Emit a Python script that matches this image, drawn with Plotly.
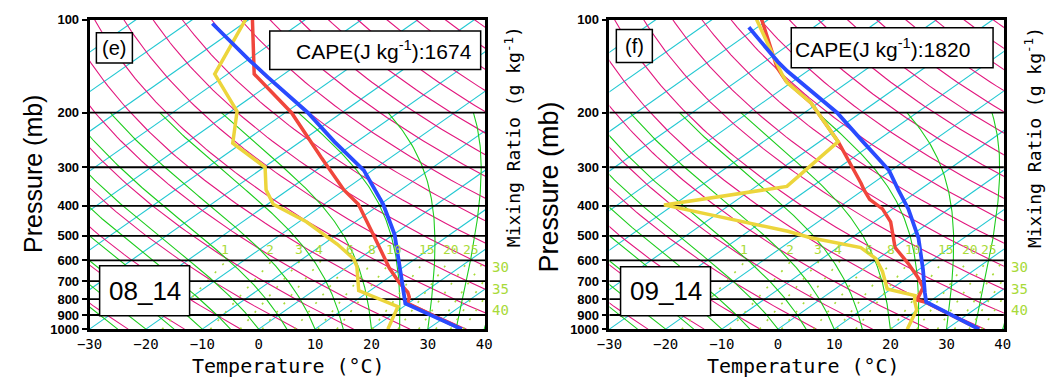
import numpy as np
import plotly.graph_objects as go

# ---------------------------------------------------------------- data
PRESSURE_TICKS = [100, 200, 300, 400, 500, 600, 700, 800, 900, 1000]
PRESSURE_LINES = [200, 300, 400, 500, 600, 700, 800, 900]
TEMP_TICKS = [-30, -20, -10, 0, 10, 20, 30, 40]
TEMP_TICK_TEXT = ["\u221230", "\u221220", "\u221210", "0", "10", "20", "30", "40"]

# reference isopleth levels
ISOTHERMS_C = list(range(-110, 41, 10))
DRY_ADIABATS_K = list(range(230, 461, 10))
MOIST_ADIABATS_C = list(range(-30, 41, 5))
MIXING_RATIO_TOP = [1, 2, 3, 4, 6, 8, 10, 15, 20, 25]
MIXING_RATIO_SIDE = [30, 35, 40]
MIXING_RATIO_SIDE_P = [628, 741, 866]

# panel (e) 08_14 : temperature, dew point, parcel
E_T_P = [1000, 826, 788, 760, 708, 636, 507, 395, 355, 279, 200, 150, 100]
E_T = [36.0, 19.9, 18.6, 17.1, 13.2, 7.8, -2.5, -13.9, -20.1, -32.3, -48.9, -65.3, -79.4]
E_TD_P = [1000, 846, 751, 628, 592, 532, 450, 395, 355, 300, 251, 198, 150, 100]
E_TD = [22.9, 19.0, 8.0, 1.6, -1.0, -7.5, -18.7, -29.0, -33.9, -39.8, -51.6, -58.9, -72.3, -80.6]
E_PA_P = [1000, 826, 725, 628, 495, 395, 355, 307, 248, 200, 154, 135, 103]
E_PA = [36.0, 19.5, 14.6, 9.2, 0.2, -9.5, -14.6, -21.5, -34.0, -46.0, -61.9, -69.8, -85.5]

# panel (f) 09_14
F_T_P = [1000, 817, 806, 734, 683, 614, 545, 450, 409, 381, 355, 338, 248, 220, 186, 158, 143, 100]
F_T = [35.8, 19.3, 17.4, 15.3, 12.0, 6.6, 0.2, -7.1, -11.8, -16.5, -19.9, -22.1, -36.7, -42.8, -51.3, -61.3, -66.3, -81.2]
F_TD_P = [1000, 866, 807, 779, 742, 651, 592, 545, 507, 483, 397, 381, 346, 248, 220, 186, 160, 150, 138, 100]
F_TD = [23.0, 19.8, 17.0, 15.9, 9.3, 4.0, -0.4, -5.9, -17.3, -23.0, -51.7, -46.8, -34.5, -36.7, -42.8, -51.3, -60.7, -63.8, -67.6, -82.1]
F_PA_P = [1000, 817, 760, 643, 507, 409, 355, 307, 248, 200, 147, 137, 106]
F_PA = [35.8, 19.5, 16.8, 10.8, 1.9, -7.2, -13.8, -20.4, -32.3, -44.2, -63.5, -67.6, -81.5]

PANEL_TAGS = ["(e)", "(f)"]
CAPE_VALUES = [1674, 1820]
DATES = ["08_14", "09_14"]

# ---------------------------------------------------------------- geometry / style
W, H = 1055, 391
SKEW = 34.0
XR = [-30, 40.2]
PANEL_X = [(78, 481.5), (608, 1010)]
PLOT_Y = (13, 335)

C_ISO = "#22C8D2"
C_DRY = "#E2177E"
C_MOIST = "#1DCC1D"
C_MR = "#A8DA38"
C_T = "#F0463C"
C_TD = "#ECD53C"
C_PA = "#2A4BFF"


def skew(t, p):
    t = np.asarray(t, dtype=float)
    p = np.asarray(p, dtype=float)
    return t + SKEW * np.log(1000.0 / p)


def es(tc):
    return 6.112 * np.exp(17.67 * tc / (tc + 243.5))


def dTdp(T, p):
    e = es(T - 273.15)
    rs = 0.622 * e / (p - e)
    return (287.04 * T + 2.501e6 * rs) / (1005.7 + 2.501e6 ** 2 * rs * 0.622 / (287.04 * T * T)) / p


def moist_adiabat(tw):
    ps = np.arange(1000.0, 199.9, -5.0)
    T = tw + 273.15
    out = [T]
    for i in range(len(ps) - 1):
        p = ps[i]
        h = ps[i + 1] - p
        k1 = dTdp(T, p)
        k2 = dTdp(T + h * k1 / 2, p + h / 2)
        k3 = dTdp(T + h * k2 / 2, p + h / 2)
        k4 = dTdp(T + h * k3, p + h)
        T = T + h * (k1 + 2 * k2 + 2 * k3 + k4) / 6
        out.append(T)
    return ps, np.array(out) - 273.15


def dewpoint_from_w(w, p):
    e = w * p / (622.0 + w)
    a = np.log(e / 6.112)
    return 243.5 * a / (17.67 - a)


def join(segments):
    xs, ys = [], []
    for x, y in segments:
        xs += list(x) + [None]
        ys += list(y) + [None]
    return xs, ys


# background families (x in skewed units, y in hPa)
iso = [(skew([t, t], [1000, 100]), [1000, 100]) for t in ISOTHERMS_C]
pp = np.geomspace(1000, 100, 80)
dry = [(skew(th * (pp / 1000.0) ** 0.2857 - 273.15, pp), pp) for th in DRY_ADIABATS_K]
moist = []
for tw in MOIST_ADIABATS_C:
    ps, ts = moist_adiabat(tw)
    moist.append((skew(ts, ps), ps))
pm = np.linspace(1000, 600, 30)
mr = [(skew(dewpoint_from_w(w, pm), pm), pm) for w in MIXING_RATIO_TOP + MIXING_RATIO_SIDE]
plines = [([-60, 60], [p, p]) for p in PRESSURE_LINES]

soundings = [
    ((E_T_P, E_T), (E_TD_P, E_TD), (E_PA_P, E_PA)),
    ((F_T_P, F_T), (F_TD_P, F_TD), (F_PA_P, F_PA)),
]

fig = go.Figure()
annotations = []
shapes = []


def px(x):
    return x / W


def py(y):
    return 1 - y / H


for i in range(2):
    xa = "x" if i == 0 else "x2"
    ya = "y" if i == 0 else "y2"
    for segs, col, wid, dash in [
        (iso, C_ISO, 1.1, "solid"),
        (dry, C_DRY, 1.1, "solid"),
        (moist, C_MOIST, 1.1, "solid"),
        (mr, C_MR, 1.6, "2px,9px"),
        (plines, "black", 1.8, "solid"),
    ]:
        xs, ys = join(segs)
        fig.add_trace(go.Scatter(x=xs, y=ys, mode="lines", xaxis=xa, yaxis=ya,
                                 line=dict(color=col, width=wid, dash=dash),
                                 hoverinfo="skip", showlegend=False))
    (tp, tt), (dp, dd), (ap, aa) = soundings[i]
    for (pv, tv), col, wid in [((tp, tt), C_T, 3.5), ((dp, dd), C_TD, 3.5), ((ap, aa), C_PA, 3.8)]:
        fig.add_trace(go.Scatter(x=skew(tv, pv), y=pv, mode="lines", xaxis=xa, yaxis=ya,
                                 line=dict(color=col, width=wid), showlegend=False))

    # mixing ratio labels
    for w in MIXING_RATIO_TOP:
        xl = float(skew(dewpoint_from_w(w, 600.0), 600.0))
        annotations.append(dict(x=xl, y=np.log10(600), xref=xa, yref=ya, text=str(w),
                                showarrow=False, xanchor="left", yanchor="bottom", yshift=1, xshift=-8,
                                font=dict(family="DejaVu Sans Mono", size=13, color=C_MR)))
    x0, x1 = PANEL_X[i]
    for w, p in zip(MIXING_RATIO_SIDE, MIXING_RATIO_SIDE_P):
        yy = PLOT_Y[0] + (PLOT_Y[1] - PLOT_Y[0]) * (np.log10(p) - 2)
        annotations.append(dict(x=px(x1 + 5), y=py(yy), xref="paper", yref="paper", text=str(w),
                                showarrow=False, xanchor="left", yanchor="middle",
                                font=dict(family="DejaVu Sans Mono", size=14, color=C_MR)))

# boxes and labels (pixel placement)
BOXES = [
    [(85, 26.7, 121.7, 58.3), (261.7, 25, 476.7, 65), (88.3, 269, 180, 321)],
    [(615, 23.3, 651.7, 57.7), (793.3, 21.7, 999, 63.3), (619.3, 270, 711, 321)],
]
for i in range(2):
    for (a, b, c, d) in BOXES[i]:
        shapes.append(dict(type="rect", xref="paper", yref="paper", x0=px(a), x1=px(c), y0=py(d), y1=py(b),
                           fillcolor="white", line=dict(color="black", width=1.5), layer="above"))
    tb, cb, db = BOXES[i]
    annotations.append(dict(x=px((tb[0] + tb[2]) / 2), y=py((tb[1] + tb[3]) / 2), xref="paper", yref="paper",
                            text=PANEL_TAGS[i], showarrow=False, xanchor="center", yanchor="middle",
                            font=dict(family="Liberation Sans", size=20, color="black")))
    cx = 286 if i == 0 else 795
    annotations.append(dict(x=px(cx), y=py((cb[1] + cb[3]) / 2), xref="paper", yref="paper",
                            text="CAPE(J kg<sup>-1</sup>):%d" % CAPE_VALUES[i], showarrow=False,
                            xanchor="left", yanchor="middle",
                            font=dict(family="Liberation Sans", size=21, color="black")))
    annotations.append(dict(x=px((db[0] + db[2]) / 2), y=py((db[1] + db[3]) / 2), xref="paper", yref="paper",
                            text=DATES[i], showarrow=False, xanchor="center", yanchor="middle",
                            font=dict(family="Liberation Sans", size=26, color="black")))

# axis titles
for (x, y, s) in [(21, 174, 25), (546, 187, 27)]:
    annotations.append(dict(x=px(x), y=py(y), xref="paper", yref="paper", text="Pressure (mb)",
                            textangle=-90, showarrow=False, xanchor="center", yanchor="middle",
                            font=dict(family="Liberation Sans", size=s, color="black")))
for (x, y) in [(509, 135), (1040, 136)]:
    annotations.append(dict(x=px(x), y=py(y), xref="paper", yref="paper", text="Mixing Ratio (g kg<sup>-1</sup>)",
                            textangle=-90, showarrow=False, xanchor="center", yanchor="middle",
                            font=dict(family="DejaVu Sans Mono", size=18, color="black")))
for (x, y) in [(281, 373), (806, 373)]:
    annotations.append(dict(x=px(x), y=py(y), xref="paper", yref="paper", text="Temperature (\u00b0C)",
                            showarrow=False, xanchor="center", yanchor="middle",
                            font=dict(family="DejaVu Sans Mono", size=20, color="black")))

xcommon = dict(range=XR, showgrid=False, zeroline=False, showline=True, mirror=True, linecolor="black",
               linewidth=2.6, tickvals=TEMP_TICKS, ticktext=TEMP_TICK_TEXT, ticks="",
               tickfont=dict(family="DejaVu Sans Mono", size=14, color="black"))
ycommon = dict(type="log", range=[3, 2], showgrid=False, zeroline=False, showline=True, mirror=True,
               linecolor="black", linewidth=2.6, tickvals=PRESSURE_TICKS,
               ticktext=[str(p) for p in PRESSURE_TICKS], ticks="outside", ticklen=5, tickwidth=2,
               tickcolor="black",
               tickfont=dict(family="Liberation Sans", size=13, color="black", weight="bold"))
ydom = [py(PLOT_Y[1]), py(PLOT_Y[0])]

fig.update_layout(
    width=W, height=H, margin=dict(l=0, r=0, t=0, b=0),
    paper_bgcolor="white", plot_bgcolor="white", showlegend=False,
    xaxis=dict(domain=[px(PANEL_X[0][0]), px(PANEL_X[0][1])], anchor="y", **xcommon),
    yaxis=dict(domain=ydom, anchor="x", **ycommon),
    xaxis2=dict(domain=[px(PANEL_X[1][0]), px(PANEL_X[1][1])], anchor="y2", **xcommon),
    yaxis2=dict(domain=ydom, anchor="x2", **ycommon),
    annotations=annotations, shapes=shapes,
)

fig.write_html("out.html")
